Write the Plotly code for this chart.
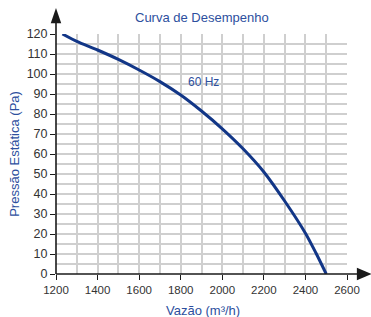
import plotly.graph_objects as go

flow = [1231, 1300, 1400, 1500, 1600, 1700, 1800, 1900, 2000, 2100, 2200, 2300, 2400, 2450, 2500]
pressure = [120, 116.3, 112, 107.3, 102, 96.2, 89.5, 81.5, 72.6, 62.6, 51, 36.5, 20.4, 10.6, 0]

x_ticks = [1200, 1400, 1600, 1800, 2000, 2200, 2400, 2600]
y_ticks = [0, 10, 20, 30, 40, 50, 60, 70, 80, 90, 100, 110, 120]

title_text = "Curva de Desempenho"
series_label = "60 Hz"
x_title = "Vazão (m³/h)"
y_title = "Pressão Estática (Pa)"

blue = "#2d4f9e"
line_color = "#123687"
grid = "#cfcfcf"
axis_col = "#1a1a1a"
font = "Liberation Sans, Arial, sans-serif"

fig = go.Figure()
fig.add_trace(go.Scatter(x=flow, y=pressure, mode="lines",
                         line=dict(color=line_color, width=3, shape="spline", smoothing=0.8),
                         hoverinfo="skip", showlegend=False))

fig.update_layout(
    width=371, height=317,
    margin=dict(l=56, r=24, t=34, b=43),
    paper_bgcolor="white", plot_bgcolor="white",
    font=dict(family=font, size=11, color="#333333"),
    showlegend=False,
    xaxis=dict(range=[1200, 2600], tickvals=x_ticks, ticktext=[str(v) for v in x_ticks],
               showgrid=True, gridcolor=grid, gridwidth=1.6,
               minor=dict(dtick=100, showgrid=True, gridcolor=grid, gridwidth=1.6),
               ticks="outside", ticklen=5, tickcolor=axis_col, zeroline=False, showline=False,
               tickfont=dict(size=11.5, color="#333")),
    yaxis=dict(range=[0, 120], tickvals=y_ticks,
               showgrid=True, gridcolor=grid, gridwidth=1.6,
               minor=dict(dtick=5, showgrid=True, gridcolor=grid, gridwidth=1.6),
               ticks="outside", ticklen=5, tickcolor=axis_col, zeroline=False, showline=False,
               tickfont=dict(size=12.5, color="#333")),
    shapes=[
        dict(type="line", xref="paper", yref="paper", x0=0, x1=1.036, y0=0, y1=0,
             line=dict(color=axis_col, width=1.6)),
        dict(type="line", xref="paper", yref="paper", x0=0, x1=0, y0=0, y1=1.05,
             line=dict(color=axis_col, width=1.6)),
        dict(type="path", xref="paper", yref="paper",
             path="M 1.034 0.026 L 1.085 0.0 L 1.034 -0.026 Z",
             fillcolor=axis_col, line=dict(color=axis_col, width=0)),
        dict(type="path", xref="paper", yref="paper",
             path="M -0.018 1.045 L 0.0 1.108 L 0.018 1.045 Z",
             fillcolor=axis_col, line=dict(color=axis_col, width=0)),
    ],
    annotations=[
        dict(text=title_text, xref="paper", yref="paper", x=0.5, y=1.07, xanchor="center", yanchor="middle",
             showarrow=False, font=dict(size=13, color=blue)),
        dict(text=series_label, x=1912, y=96, showarrow=False, font=dict(size=12, color=blue)),
        dict(text=x_title, xref="paper", yref="paper", x=0.505, y=-0.15, xanchor="center", yanchor="middle",
             showarrow=False, font=dict(size=13, color=blue)),
        dict(text=y_title, xref="paper", yref="paper", x=-0.145, y=0.5, textangle=-90,
             xanchor="center", yanchor="middle", showarrow=False, font=dict(size=13, color=blue)),
    ],
)

fig.write_html("out.html", post_script="document.body.style.margin='0';",
               config={"displayModeBar": False})
